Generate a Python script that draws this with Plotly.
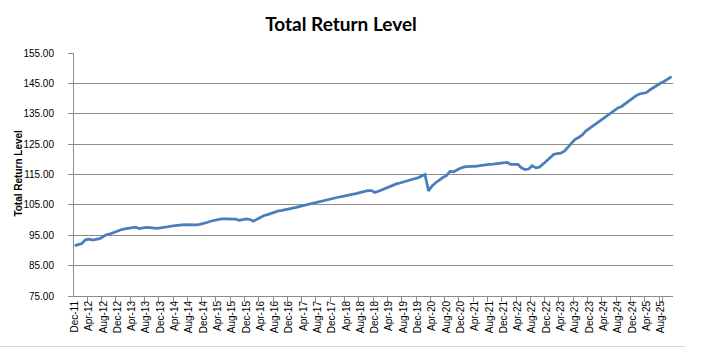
import plotly.graph_objects as go
import pandas as pd

months = pd.date_range("2011-12-01", periods=168, freq="MS").strftime("%b-%y").tolist()

total_return = [
    91.6, 91.9, 92.3, 93.5, 93.7, 93.4, 93.6, 93.9, 94.6, 95.2, 95.5, 96.0,
    96.4, 96.8, 97.1, 97.3, 97.3, 97.7, 97.2, 97.4, 97.6, 97.5, 97.3, 97.3,
    97.4, 97.5, 97.8, 98.0, 98.2, 98.3, 98.4, 98.5, 98.5, 98.3, 98.4, 98.6,
    98.8, 99.2, 99.6, 99.9, 100.2, 100.4, 100.4, 100.4, 100.4, 100.3, 99.9, 100.1,
    100.4, 100.2, 99.6, 100.3, 101.0, 101.5, 101.8, 102.2, 102.7, 103.0, 103.2, 103.4,
    103.6, 103.8, 104.2, 104.5, 104.8, 105.1, 105.3, 105.6, 105.9, 106.3, 106.6, 106.9,
    107.1, 107.4, 107.6, 107.8, 108.0, 108.2, 108.5, 108.8, 109.1, 109.4, 109.7, 109.7,
    109.1, 109.5, 110.0, 110.4, 110.9, 111.5, 111.9, 112.2, 112.6, 112.9, 113.3, 113.6,
    113.9, 114.4, 115.0, 109.6, 111.2, 112.3, 113.3, 114.0, 114.6, 116.0, 115.9, 116.6,
    117.1, 117.5, 117.7, 117.7, 117.7, 117.9, 118.0, 118.2, 118.3, 118.4, 118.6, 118.6,
    118.8, 119.0, 118.3, 118.4, 118.3, 117.2, 116.6, 116.8, 117.9, 117.2, 117.4, 118.4,
    119.4, 120.6, 121.6, 121.9, 122.0, 122.7, 124.0, 125.5, 126.6, 127.2, 128.0, 129.3,
    130.3, 131.0, 131.8, 132.7, 133.6, 134.4, 135.3, 136.3, 136.9, 137.4, 138.3, 139.1,
    140.0, 140.9, 141.5, 141.8, 142.0, 142.9, 143.7, 144.5, 145.1, 145.7, 146.4, 147.2,
]

tick_labels = months[::4]
y_ticks = [75, 85, 95, 105, 115, 125, 135, 145, 155]

W, H = 709, 352
L, R, T, B = 74, 673, 53.3, 296.5

fig = go.Figure()
fig.add_trace(go.Scatter(
    x=months, y=total_return, mode="lines",
    line=dict(color="#4A7EBB", width=2.75),
    showlegend=False, hoverinfo="skip",
))

grid = "#8C8C8C"
fig.update_layout(
    width=W, height=H,
    margin=dict(l=L, r=W - R, t=T, b=H - B, pad=0),
    paper_bgcolor="white", plot_bgcolor="white",
    title=dict(
        text="<b>Total Return Level</b>",
        x=341 / W, xanchor="center", xref="container",
        y=1 - 24 / H, yanchor="middle", yref="container",
        font=dict(family="Lato, Liberation Sans, Arial", size=19, color="#000000"),
    ),
    font=dict(family="Liberation Sans, Arial", color="#000000"),
)
fig.update_xaxes(
    type="category",
    range=[-0.2, 167.4],
    tickmode="array", tickvals=tick_labels, ticktext=tick_labels,
    tickson="boundaries",
    ticks="outside", ticklen=5, tickcolor=grid,
    tickangle=-90,
    tickfont=dict(family="Liberation Sans, Arial", size=10, color="#000000"),
    showline=True, linecolor=grid, linewidth=1,
    showgrid=False, zeroline=False,
)
fig.update_yaxes(
    range=[75, 155],
    tickmode="array", tickvals=y_ticks,
    tickformat=".2f",
    ticks="outside", ticklen=5, tickcolor=grid,
    ticklabelstandoff=12,
    tickfont=dict(family="Liberation Sans, Arial", size=10, color="#000000"),
    showline=True, linecolor=grid, linewidth=1,
    showgrid=True, gridcolor=grid, gridwidth=1,
    zeroline=False,
)

# y-axis title as rotated text
fig.add_annotation(
    text="<b>Total Return Level</b>", textangle=-90,
    xref="paper", yref="paper",
    x=(19 - L) / (R - L), y=(B - 174) / (B - T),
    xanchor="center", yanchor="middle", showarrow=False,
    font=dict(family="Liberation Sans, Arial", size=10, color="#000000"),
)

# chart-area border (bottom edge visible)
fig.add_shape(
    type="line", xref="paper", yref="paper",
    x0=(0 - L) / (R - L), x1=(685 - L) / (R - L),
    y0=(B - 347) / (B - T), y1=(B - 347) / (B - T),
    line=dict(color="#D9D9D9", width=1),
)

fig.write_html("out.html")
